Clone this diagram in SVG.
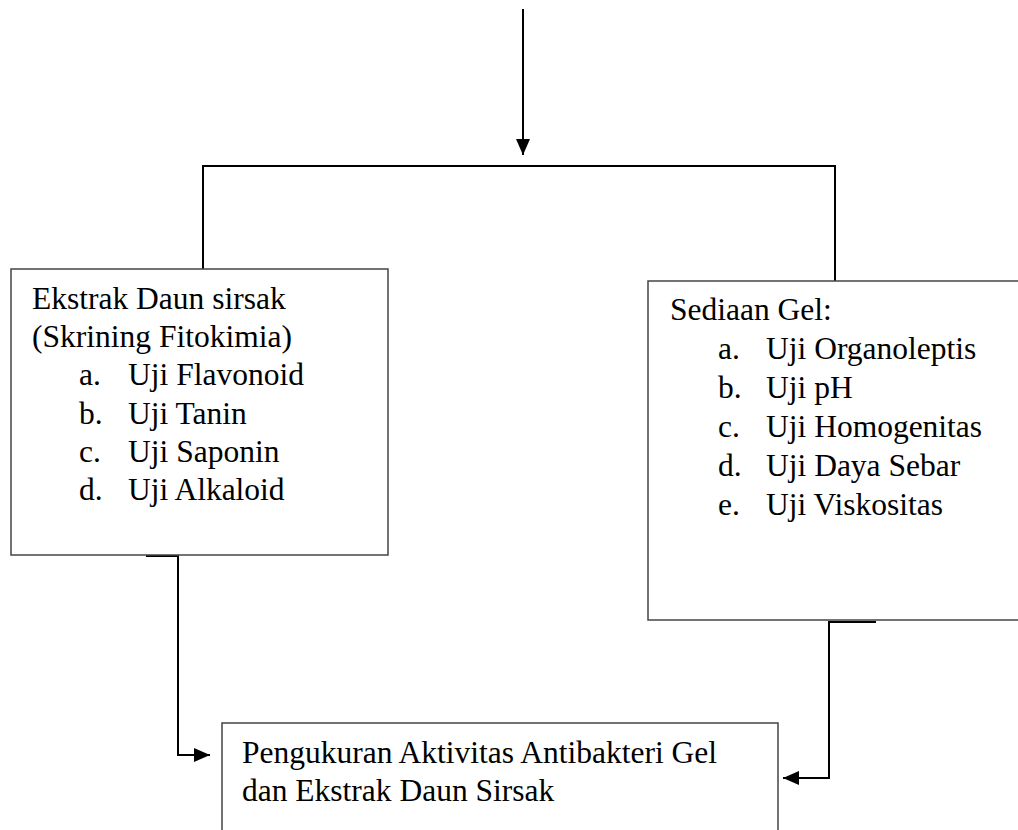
<svg xmlns="http://www.w3.org/2000/svg" width="1018" height="830" viewBox="0 0 1018 830">
<style>
.box{fill:#fff;stroke:#444;stroke-width:1.5}
.t{font-family:"Liberation Serif","Times New Roman",serif;font-size:31.5px;fill:#000}
.c{fill:none;stroke:#000;stroke-width:2}
</style>
<defs>
<marker id="ah" markerWidth="16" markerHeight="14" refX="16" refY="7" orient="auto" markerUnits="userSpaceOnUse">
<path d="M0,0 L16,7 L0,14 Z" fill="#000"/>
</marker>
</defs>
<rect width="1018" height="830" fill="#fff"/>
<g id="connectors">
<line class="c" x1="523" y1="9" x2="523" y2="155" marker-end="url(#ah)"/>
<polyline class="c" points="203,270 203,166 835,166 835,281"/>
<polyline class="c" points="146,556 178,556 178,755 210,755" marker-end="url(#ah)"/>
<polyline class="c" points="876,622 829,622 829,778 783,778" marker-end="url(#ah)"/>
</g>
<g id="ekstrak">
<rect class="box" x="11" y="269" width="377" height="286"/>
<text class="t" x="32" y="309">Ekstrak Daun sirsak</text>
<text class="t" x="32" y="347">(Skrining Fitokimia)</text>
<text class="t" x="79" y="385">a.</text><text class="t" x="128" y="385">Uji Flavonoid</text>
<text class="t" x="79" y="424">b.</text><text class="t" x="128" y="424">Uji Tanin</text>
<text class="t" x="79" y="462">c.</text><text class="t" x="128" y="462">Uji Saponin</text>
<text class="t" x="79" y="500">d.</text><text class="t" x="128" y="500">Uji Alkaloid</text>
</g>
<g id="sediaan">
<rect class="box" x="648" y="281" width="380" height="339"/>
<text class="t" x="670" y="320">Sediaan Gel:</text>
<text class="t" x="718" y="359">a.</text><text class="t" x="766" y="359">Uji Organoleptis</text>
<text class="t" x="718" y="398">b.</text><text class="t" x="766" y="398">Uji pH</text>
<text class="t" x="718" y="437">c.</text><text class="t" x="766" y="437">Uji Homogenitas</text>
<text class="t" x="718" y="476">d.</text><text class="t" x="766" y="476">Uji Daya Sebar</text>
<text class="t" x="718" y="515">e.</text><text class="t" x="766" y="515">Uji Viskositas</text>
</g>
<g id="pengukuran">
<rect class="box" x="222" y="723" width="556" height="130"/>
<text class="t" x="242" y="763">Pengukuran Aktivitas Antibakteri Gel</text>
<text class="t" x="242" y="801">dan Ekstrak Daun Sirsak</text>
</g>
</svg>
